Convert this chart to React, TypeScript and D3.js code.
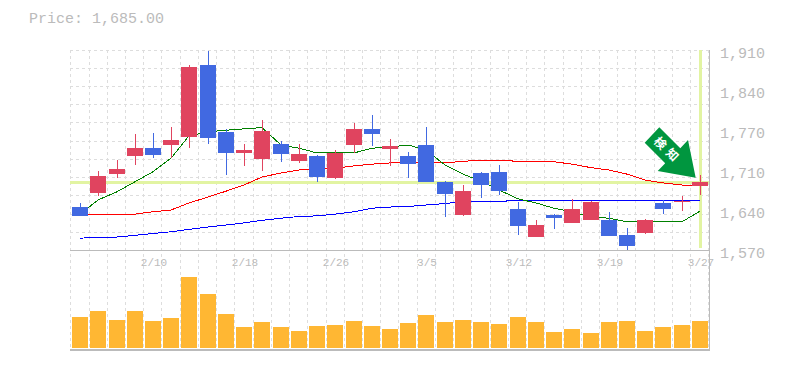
import React from "react";
import * as d3 from "d3";

const priceNow = 1685;
const priceLabel = "Price: 1,685.00";
const priceTicks = [1910, 1840, 1770, 1710, 1640, 1570];
const dateLabels = ["2/10", "2/18", "2/26", "3/5", "3/12", "3/19", "3/27"];
const dateLabelIndex = [4, 9, 14, 19, 24, 29, 34];

const open = [1643,1667,1699,1730,1743,1748.5,1762,1884.5,1771,1735,1725,1750,1721,1730,1692,1748.5,1776,1742,1730,1748.5,1686,1629.5,1701,1703,1640,1592,1629.5,1616,1621,1621,1595.5,1599,1650,1652,1679];
const high = [1650,1704,1723,1767,1769,1779,1884.5,1909,1776,1750,1791,1755,1750,1731.5,1740,1786,1800,1759,1737,1779,1687,1680,1703,1714.5,1652,1621,1631,1657,1653,1635,1607,1623,1655,1662,1697.5];
const low = [1628,1662,1692,1715,1726,1726,1743,1750,1697.5,1713,1704,1720,1718,1686,1691,1735,1747,1713,1692,1686,1626,1628,1658,1663.5,1595.5,1592,1606,1616,1621,1594,1570,1597,1630.5,1636,1663.5];
const close = [1628,1696,1708,1743,1732,1757,1881,1760,1735,1740,1772,1733,1733,1694,1735,1776,1767,1747,1716,1686,1665,1670,1680,1670,1611,1612.5,1624,1640,1652,1594,1577,1621,1640,1652.5,1685];

const maShort = [1631,1655,1669,1686,1703,1726,1764,1771,1773.5,1776,1778,1748.5,1743,1735,1735,1735,1743,1745,1748.5,1740,1714.5,1699,1687,1672,1657,1650,1641,1635,1626,1624,1618,1618,1618,1618,1636];
const maMid = [1630,1630,1630,1631,1635,1638,1650,1660,1670,1680.5,1694,1701,1706,1708,1709,1713,1716,1718,1718,1718,1718,1721,1722,1722,1721,1721,1720,1716,1710,1706,1699,1689,1684,1680.5,1680.5];
const maLong = [1590,1592,1592,1595,1598,1601,1605,1609,1612.5,1616,1620.5,1624,1627,1628,1631,1635,1641,1643,1644,1646.5,1649,1652,1652.5,1652.5,1654.5,1654.5,1654.5,1654.5,1654.5,1654.5,1654.5,1654.5,1654.5,1654.5,1654.5];
const volume = [31,37,28,37,27,30,71,54,34,21,26,21,17,22,23,27,22,19,25,33,26,28,26,24,31,26,16,19,15,26,27,17,21,23,27];

const dayIndex = volume.map((_, i) => i);
const monoFont = "'Liberation Mono', monospace";
const gridColor = "#dddddd";
const axisColor = "#bbbbbb";
const textColor = "#bbbbbb";
const upColor = "#e0445f";
const downColor = "#4169e1";
const volColor = "#ffb733";
const guideColor = "#e2f4a2";
const arrowColor = "#00963f";

export default function App() {
  const xBand = d3.scaleBand<number>().domain(dayIndex).range([71, 709.05]);
  const cx = (i: number) => Math.round(xBand(i)! + xBand.bandwidth() / 2);
  const y = d3.scaleLinear().domain([1570, 1910]).range([250, 50]);
  const yVol = d3.scaleLinear().domain([0, 71]).range([348, 277]);
  const gridX = d3.range(0, 36).map((i) => Math.round(70.3 + 18.23 * i) + 0.5);
  const gridY = d3.range(0, 11).map((i) => 50 + 18 * i + (i >= 5 ? 1 : 0) + (i >= 9 ? 1 : 0) + 0.5);

  const line = (vals: number[]) =>
    d3.line<number>().x((_, i) => cx(i)).y((d) => y(d))(vals) ?? "";

  const yNow = Math.round(y(priceNow));
  const xNow = cx(34);

  return (
    <svg
      width={785}
      height={370}
      style={{ position: "absolute", left: 0, top: 0, background: "#fff" }}
    >
      <text x={29} y={23} fontFamily={monoFont} fontSize={15} fill={textColor}>
        {priceLabel}
      </text>

      <g stroke={gridColor} strokeDasharray="3 3" shapeRendering="crispEdges">
        {gridX.map((gx) => (
          <line key={gx} x1={gx} x2={gx} y1={50} y2={350} />
        ))}
        {gridY.map((gy) => (
          <line key={gy} x1={70} x2={709} y1={gy} y2={gy} />
        ))}
      </g>

      <g stroke={axisColor} shapeRendering="crispEdges">
        <line x1={70} x2={709} y1={250.5} y2={250.5} />
        <line x1={70} x2={710} y1={350} y2={350} strokeWidth={2} />
        <line x1={709.5} x2={709.5} y1={50} y2={350} />
      </g>

      <g fill={guideColor} shapeRendering="crispEdges">
        <rect x={70} y={yNow - 1} width={639} height={3} />
        <rect x={xNow - 1} y={50} width={3} height={198} />
      </g>

      <g fill="none" strokeWidth={1} shapeRendering="crispEdges">
        <path d={line(maLong)} stroke="#0000ff" />
        <path d={line(maMid)} stroke="#ff0000" />
        <path d={line(maShort)} stroke="#008000" />
      </g>

      {dayIndex.map((i) => {
        const up = close[i] >= open[i];
        const color = up ? upColor : downColor;
        const top = y(Math.max(open[i], close[i]));
        const bottom = y(Math.min(open[i], close[i]));
        const c = cx(i);
        return (
          <g key={i} shapeRendering="crispEdges">
            <rect x={c - 0.5} y={y(high[i])} width={1} height={y(low[i]) - y(high[i])} fill={color} />
            <rect x={c - 8} y={top} width={16} height={Math.max(1, bottom - top)} fill={color} />
          </g>
        );
      })}

      {dayIndex.map((i) => (
        <rect
          key={i}
          x={cx(i) - 8}
          y={yVol(volume[i])}
          width={16}
          height={yVol(0) - yVol(volume[i])}
          fill={volColor}
          shapeRendering="crispEdges"
        />
      ))}

      <g fontFamily={monoFont} fontSize={15} fill={textColor}>
        {priceTicks.map((t, k) => (
          <text key={t} x={720} y={58 + 40 * k}>
            {d3.format(",")(t)}
          </text>
        ))}
      </g>
      <g fontFamily={monoFont} fontSize={11} fill={textColor} textAnchor="middle">
        {dateLabels.map((t, k) => (
          <text key={t} x={cx(dateLabelIndex[k]) + 1} y={266}>
            {t}
          </text>
        ))}
      </g>

      <polygon
        points="644.7,142.7 659.3,127.3 680.3,148.3 688,140 695.7,177.7 657.7,171 665.2,163.2"
        fill={arrowColor}
      />
      <g
        fontFamily="'Noto Sans CJK JP', sans-serif"
        fontWeight={700}
        fontSize={12}
        fill="#fff"
        textAnchor="middle"
      >
        <text transform="translate(660,143.5) rotate(45)" y={4}>検</text>
        <text transform="translate(672,155) rotate(45)" y={4}>知</text>
      </g>
    </svg>
  );
}
